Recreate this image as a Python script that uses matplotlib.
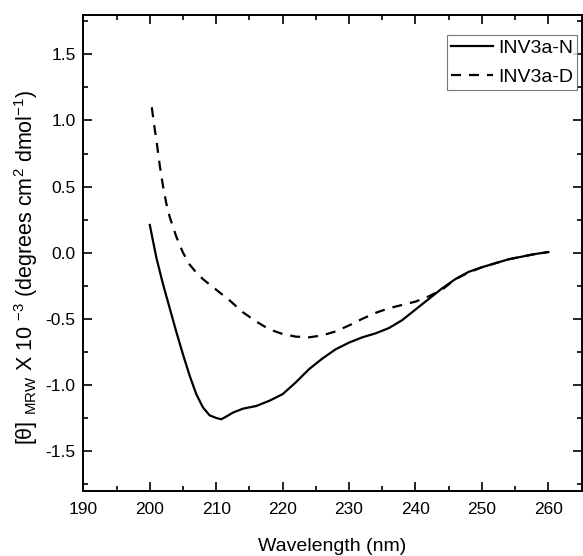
import matplotlib
matplotlib.use("Agg")
import matplotlib.pyplot as plt
from matplotlib.ticker import MultipleLocator

plt.rcParams["font.family"] = ["Liberation Sans", "DejaVu Sans"]
plt.rcParams["mathtext.fontset"] = "custom"
plt.rcParams["mathtext.rm"] = "Liberation Sans"
plt.rcParams["mathtext.it"] = "Liberation Sans:italic"
plt.rcParams["axes.unicode_minus"] = False

# CD spectra (wavelength nm, [theta] x 10^-3)
wl_native = [200, 201, 202, 203, 204, 205, 206, 207, 208, 209, 210, 210.75,
             211.5, 212.5, 214, 216, 218, 220, 222, 224, 226, 228, 230, 232,
             234, 236, 238, 240, 242, 244, 246, 248, 250, 252, 254, 256, 258, 260]
theta_native = [0.21, -0.04, -0.24, -0.42, -0.60, -0.77, -0.93, -1.07, -1.17, -1.23,
                -1.25, -1.26, -1.24, -1.21, -1.18, -1.16, -1.12, -1.07, -0.98, -0.88,
                -0.80, -0.73, -0.68, -0.64, -0.61, -0.57, -0.51, -0.43, -0.35, -0.27,
                -0.20, -0.145, -0.11, -0.08, -0.05, -0.03, -0.01, 0.005]

wl_denat = [200.3, 200.7, 201, 201.5, 202, 202.5, 203, 204, 205, 206, 207, 208, 210,
            212, 214, 216, 218, 220, 222, 224, 226, 228, 230, 232, 234, 236, 238, 240,
            242, 244, 246, 248, 250, 252, 254, 256, 258, 260]
theta_denat = [1.10, 0.95, 0.85, 0.66, 0.50, 0.37, 0.27, 0.12, 0.0, -0.09, -0.15, -0.20,
               -0.28, -0.36, -0.45, -0.52, -0.58, -0.615, -0.635, -0.64, -0.625, -0.595,
               -0.55, -0.50, -0.455, -0.42, -0.395, -0.37, -0.33, -0.28, -0.20, -0.15,
               -0.11, -0.08, -0.05, -0.03, -0.01, 0.005]

fig = plt.figure(figsize=(5.83, 5.56), dpi=100)
ax = fig.add_axes([0.143, 0.1175, 0.8545, 0.856])

ax.plot(wl_native, theta_native, "-", color="black", lw=1.6, label="INV3a-N")
ax.plot(wl_denat, theta_denat, color="black", lw=1.6, dashes=(4.5, 3.6), label="INV3a-D")

ax.set_xlim(190, 265)
ax.set_ylim(-1.8, 1.8)
ax.xaxis.set_major_locator(MultipleLocator(10))
ax.xaxis.set_minor_locator(MultipleLocator(5))
ax.yaxis.set_major_locator(MultipleLocator(0.5))
ax.yaxis.set_minor_locator(MultipleLocator(0.25))
ax.tick_params(which="both", direction="in", top=True, right=True, width=1.2,
               labelsize=12.5)
ax.tick_params(which="major", length=6.5)
ax.tick_params(which="minor", length=3.5)
ax.tick_params(axis="x", which="major", pad=8.5)
ax.tick_params(axis="y", which="major", pad=5.5)
for s in ax.spines.values():
    s.set_linewidth(1.4)

ax.set_xlabel("Wavelength (nm)", fontsize=14)
ax.xaxis.set_label_coords(0.5, -0.1)
ax.set_ylabel(r"[θ] $_{\mathrm{MRW}}$ X 10 $^{-3}$ (degrees cm$^{2}$ dmol$^{-1}$)",
              fontsize=15.5)
ax.yaxis.set_label_coords(-0.087, 0.47)

leg = ax.legend(loc="upper right", bbox_to_anchor=(0.991, 0.957), fontsize=14,
                frameon=True, fancybox=False, handlelength=2.2, handletextpad=0.25,
                borderpad=0.2, labelspacing=0.6, borderaxespad=0.0)
leg.get_frame().set_edgecolor("#555555")
leg.get_frame().set_linewidth(0.8)

fig.savefig("out.png", dpi=100)
